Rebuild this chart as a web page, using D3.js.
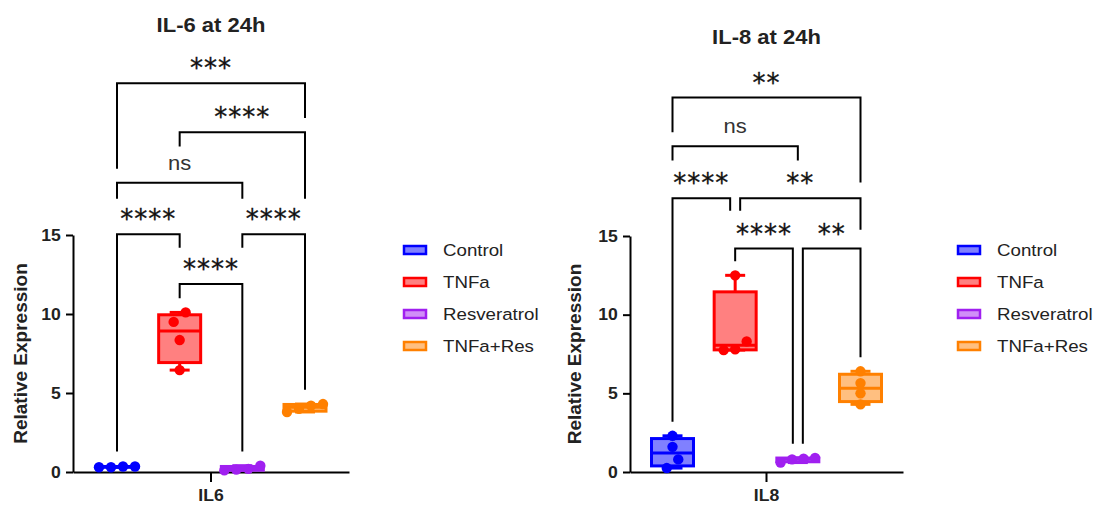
<!DOCTYPE html>
<html>
<head>
<meta charset="utf-8">
<script src="https://cdn.jsdelivr.net/npm/d3@7"></script>
<style>
  body { margin: 0; background: #fff; }
</style>
</head>
<body>
<script>
const groups = ["Control", "TNFa", "Resveratrol", "TNFa+Res"];
const strokeColors = ["#0000ff", "#ff0000", "#a020f0", "#ff8000"];
const fillColors = ["#8080ff", "#ff8080", "#d08ff7", "#ffbf80"];
const yTicks = [0, 5, 10, 15];

const il6Values = [
  [0.3, 0.35, 0.3, 0.35],
  [6.45, 8.35, 9.5, 10.1],
  [0.1, 0.4, 0.15, 0.2],
  [3.8, 4.0, 4.2, 4.3]
];
const il8Values = [
  [0.25, 0.8, 1.6, 2.3],
  [7.75, 7.8, 8.3, 12.5],
  [0.6, 0.9, 0.8, 0.85],
  [4.3, 5.0, 5.65, 6.4]
];

// comparisons: from group, to group, bar level, left leg end, right leg end, label
const il6Stats = [
  [0, 3, 24.6, 19.2, 22.4, "***"],
  [1, 3, 21.5, 20.6, 17.3, "****"],
  [0, 2, 18.3, 17.3, 17.3, "ns"],
  [0, 1, 15.05, 1.3, 14.2, "****"],
  [2, 3, 15.05, 14.2, 5.2, "****"],
  [1, 2, 11.9, 11.0, 1.3, "****"]
];
const il8Stats = [
  [0, 3, 23.8, 21.6, 18.4, "**"],
  [0, 2, 20.7, 19.8, 19.8, "ns"],
  [0, 1, 17.4, 3.2, 16.6, "****"],
  [1, 3, 17.4, 16.6, 15.4, "**"],
  [1, 2, 14.2, 13.4, 1.8, "****"],
  [2, 3, 14.2, 1.8, 7.3, "**"]
];

const W = 1096, H = 506;
const SX = 1.1; // the original text looks a bit wide
const FONT = "'Liberation Sans', Arial, sans-serif";

const svg = d3.select("body").append("svg")
  .attr("width", W)
  .attr("height", H);
svg.append("rect").attr("width", W).attr("height", H).attr("fill", "#fff");

// prism-style quartile (n+1 method)
function quart(s, p) {
  const n = s.length, h = (n + 1) * p, lo = Math.floor(h);
  if (lo < 1) return s[0];
  if (lo >= n) return s[n - 1];
  return s[lo - 1] + (h - lo) * (s[lo] - s[lo - 1]);
}

function wideText(g, x, y, str, size, weight, anchor, color) {
  return g.append("text")
    .attr("transform", `translate(${x},${y}) scale(${SX},1)`)
    .attr("text-anchor", anchor)
    .style("font-family", FONT)
    .attr("font-size", size)
    .attr("font-weight", weight)
    .attr("fill", color)
    .text(str);
}

function panel(cfg) {
  const g = svg.append("g");
  const y = d3.scaleLinear().domain([0, 15]).range([472, cfg.yTop]);
  const xb = d3.scaleBand().domain([cfg.tick]).range([cfg.left, cfg.right]);
  const xc = (cfg.left + cfg.right) / 2;
  const x = d3.scalePoint().domain(groups).range([xc - 94, xc + 94]);

  // axes
  const ya = g.append("g")
    .attr("transform", `translate(${cfg.left},0)`)
    .call(d3.axisLeft(y).tickValues(yTicks).tickSize(7).tickSizeOuter(0).tickPadding(4));
  ya.select(".domain").attr("stroke-width", 2);
  ya.selectAll(".tick line").attr("stroke-width", 2);
  ya.selectAll(".tick text")
    .attr("font-size", 16).attr("font-weight", "bold").attr("fill", "#222")
    .style("font-family", FONT)
    .attr("transform", `scale(${SX},1)`);

  const xa = g.append("g")
    .attr("transform", "translate(0,472)")
    .call(d3.axisBottom(xb).tickSize(10).tickSizeOuter(0).tickPadding(8));
  xa.select(".domain").attr("stroke-width", 2);
  xa.selectAll(".tick line").attr("stroke-width", 2);
  xa.selectAll(".tick text")
    .attr("font-size", 16).attr("font-weight", "bold").attr("fill", "#222")
    .style("font-family", FONT)
    .attr("transform", `scale(${SX},1)`);

  // y label
  g.append("text")
    .attr("transform", `translate(${cfg.yLabelX},${(472 + cfg.yTop) / 2}) rotate(-90)`)
    .attr("text-anchor", "middle")
    .attr("dy", "0.35em")
    .style("font-family", FONT)
    .attr("font-size", 19)
    .attr("font-weight", "bold")
    .attr("fill", "#222")
    .text("Relative Expression");

  // title
  wideText(g, xc, cfg.titleY, cfg.title, 20, "bold", "middle", "#222");

  // boxes
  cfg.values.forEach((vals, i) => {
    const s = vals.slice().sort(d3.ascending);
    const q1 = quart(s, 0.25), med = quart(s, 0.5), q3 = quart(s, 0.75);
    const cx = x(groups[i]);
    const bw = 42, cw = 20;
    const bg = g.append("g")
      .attr("stroke", strokeColors[i])
      .attr("stroke-width", 3);
    bg.append("line").attr("x1", cx).attr("x2", cx).attr("y1", y(q3)).attr("y2", y(s[s.length - 1]));
    bg.append("line").attr("x1", cx).attr("x2", cx).attr("y1", y(q1)).attr("y2", y(s[0]));
    bg.append("line").attr("x1", cx - cw / 2).attr("x2", cx + cw / 2).attr("y1", y(s[s.length - 1])).attr("y2", y(s[s.length - 1]));
    bg.append("line").attr("x1", cx - cw / 2).attr("x2", cx + cw / 2).attr("y1", y(s[0])).attr("y2", y(s[0]));
    bg.append("rect")
      .attr("x", cx - bw / 2).attr("width", bw)
      .attr("y", y(q3)).attr("height", Math.max(0.5, y(q1) - y(q3)))
      .attr("fill", fillColors[i]);
    bg.append("line").attr("x1", cx - bw / 2).attr("x2", cx + bw / 2).attr("y1", y(med)).attr("y2", y(med));

    // dots, rows of near-equal values spread sideways
    const rows = [];
    s.forEach(v => {
      const last = rows[rows.length - 1];
      if (last && Math.abs(y(last[0]) - y(v)) < 10) last.push(v);
      else rows.push([v]);
    });
    rows.forEach(row => {
      row.forEach((v, k) => {
        g.append("circle")
          .attr("cx", cx + (k - (row.length - 1) / 2) * cfg.dotGap)
          .attr("cy", y(v))
          .attr("r", 5.2)
          .attr("fill", strokeColors[i]);
      });
    });
  });

  // significance brackets
  const sg = g.append("g").attr("fill", "none").attr("stroke", "#000").attr("stroke-width", 2);
  cfg.stats.forEach(st => {
    const [a, b, lvl, e1, e2, lab] = st;
    let xa1 = x(groups[a]), xb1 = x(groups[b]);
    cfg.stats.forEach(o => {
      if (o === st || o[2] !== lvl) return;
      if (o[0] === b) xb1 -= 5;
      if (o[1] === a) xa1 += 5;
    });
    sg.append("path")
      .attr("d", `M${xa1},${y(e1)}V${y(lvl)}H${xb1}V${y(e2)}`);
    const mx = (xa1 + xb1) / 2, my = y(lvl) - 19;
    if (lab === "ns") {
      wideText(g, mx, my + 6, lab, 20, "normal", "middle", "#333");
    } else {
      g.append("text")
        .attr("x", mx).attr("y", my + 13)
        .attr("text-anchor", "middle")
        .style("font-family", "'DejaVu Sans', sans-serif")
        .style("letter-spacing", "1px")
        .attr("font-size", 26)
        .attr("fill", "#111")
        .attr("stroke", "#111")
        .attr("stroke-width", 0.3)
        .text(lab);
    }
  });

  // legend
  const lg = g.append("g");
  groups.forEach((name, i) => {
    const ly = 250 + i * 32;
    lg.append("rect")
      .attr("x", cfg.legendX).attr("y", ly - 4)
      .attr("width", 22).attr("height", 8)
      .attr("fill", fillColors[i])
      .attr("stroke", strokeColors[i])
      .attr("stroke-width", 2.5);
    wideText(lg, cfg.legendX + 39, ly + 6, name, 17, "normal", "start", "#222");
  });
}

panel({
  title: "IL-6 at 24h", tick: "IL6", values: il6Values, stats: il6Stats,
  left: 73, right: 349, yTop: 235, titleY: 32, yLabelX: 20,
  legendX: 404, dotGap: 12
});
panel({
  title: "IL-8 at 24h", tick: "IL8", values: il8Values, stats: il8Stats,
  left: 630, right: 903, yTop: 236, titleY: 44, yLabelX: 574,
  legendX: 958, dotGap: 11.5
});
</script>
</body>
</html>
